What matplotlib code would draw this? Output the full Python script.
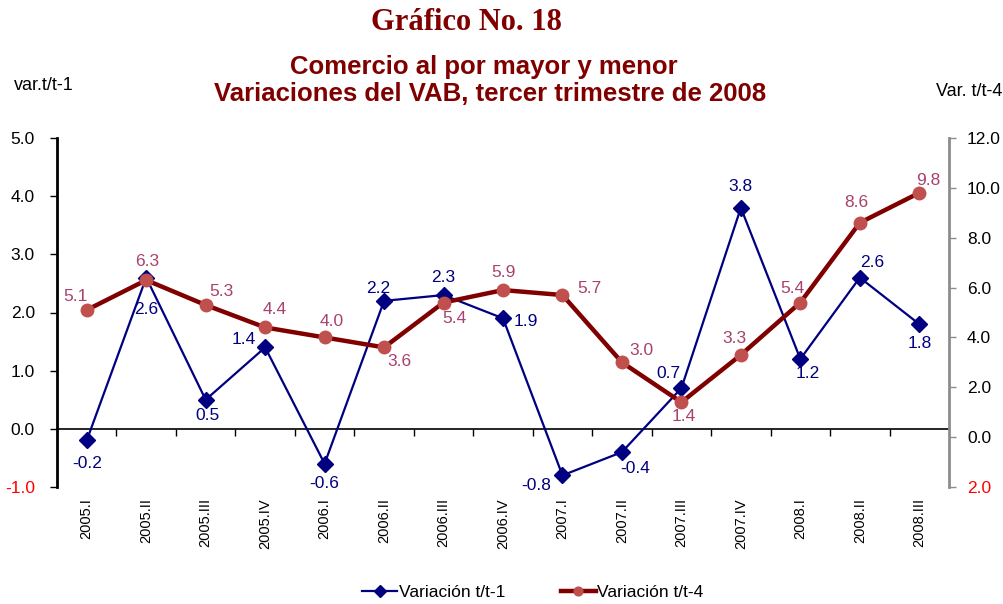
import numpy as np
import matplotlib
matplotlib.use("Agg")
import matplotlib.pyplot as plt
from matplotlib.ticker import FuncFormatter

# data
quarters = ['2005.I', '2005.II', '2005.III', '2005.IV', '2006.I', '2006.II', '2006.III',
            '2006.IV', '2007.I', '2007.II', '2007.III', '2007.IV', '2008.I', '2008.II', '2008.III']
var_t1 = [-0.2, 2.6, 0.5, 1.4, -0.6, 2.2, 2.3, 1.9, -0.8, -0.4, 0.7, 3.8, 1.2, 2.6, 1.8]
var_t4 = [5.1, 6.3, 5.3, 4.4, 4.0, 3.6, 5.4, 5.9, 5.7, 3.0, 1.4, 3.3, 5.4, 8.6, 9.8]

# label offsets (pixels, x right / y up)
off_t1 = [(0, -23), (0, -32), (2, -16), (-21, 8), (0, -20), (-6, 12), (0, 18), (23, -3),
          (-26, -10), (13, -16), (-13, 15), (0, 21), (7, -14), (12, 15), (0, -19)]
off_t4 = [(-11, 14), (1, 19), (16, 14), (10, 18), (7, 16), (15, -14), (11, -16), (0, 18),
          (27, 7), (19, 12), (2, -14), (-6, 16), (-8, 14), (-3, 20), (9, 12)]

navy = '#000080'
maroon = '#800000'
dot = '#C0504D'
pink = '#A8416E'

plt.rcParams['font.family'] = ['Liberation Sans', 'DejaVu Sans']

fig = plt.figure(figsize=(10.04, 6.04), dpi=100)
ax = fig.add_axes([57 / 1004, 1 - 487 / 604, 892 / 1004, 349 / 604])
ax2 = ax.twinx()

x = np.arange(len(quarters)) + 0.5

ax.plot(x, var_t1, color=navy, lw=1.6, marker='D', ms=8.5, mfc=navy, mec=navy, label='Variación t/t-1')
ax2.plot(x, var_t4, color=maroon, lw=3.2, marker='o', ms=9, mfc=dot, mec=dot, label='Variación t/t-4')

for xi, v, o in zip(x, var_t1, off_t1):
    ax.annotate(f'{v:.1f}', (xi, v), xytext=o, textcoords='offset pixels',
                ha='center', va='center', color=navy, fontsize=12.5)
for xi, v, o in zip(x, var_t4, off_t4):
    ax2.annotate(f'{v:.1f}', (xi, v), xytext=o, textcoords='offset pixels',
                 ha='center', va='center', color=pink, fontsize=12.5)

ax.set_xlim(0, len(quarters))
ax.set_ylim(-1, 5)
ax2.set_ylim(-2, 12)
ax.set_yticks(np.arange(-1, 6, 1))
ax2.set_yticks(np.arange(-2, 13, 2))
ax.yaxis.set_major_formatter(FuncFormatter(lambda v, p: f'{v:.1f}'))
ax2.yaxis.set_major_formatter(FuncFormatter(lambda v, p: f'{abs(v):.1f}'))

# category labels at the bottom
ax.set_xticks(x)
ax.set_xticklabels(quarters, rotation=90, fontsize=10.5, va='top')
ax.tick_params(axis='x', length=0, pad=8)

# zero line with category boundary ticks
ax.axhline(0, color='black', lw=1.2, zorder=1)
sec = ax.secondary_xaxis(1 / 6)
sec.set_xticks(np.arange(1, len(quarters)))
sec.tick_params(axis='x', direction='out', length=5, width=1, labelbottom=False, color='black')
sec.spines['bottom'].set_visible(False)

for a in (ax, ax2):
    a.spines['top'].set_visible(False)
    a.spines['bottom'].set_visible(False)
ax.spines['right'].set_visible(False)
ax2.spines['left'].set_visible(False)
ax.spines['left'].set_linewidth(2)
ax.spines['left'].set_color('black')
ax2.spines['right'].set_linewidth(2)
ax2.spines['right'].set_color('#8c8c8c')

ax.tick_params(axis='y', labelsize=12.5, length=5, width=1, pad=11)
ax2.tick_params(axis='y', labelsize=12.5, length=5, width=1, color='#8c8c8c', pad=8)

for t in ax.get_yticklabels():
    if t.get_text().startswith('-'):
        t.set_color('red')
for v, t in zip(ax2.get_yticks(), ax2.get_yticklabels()):
    if v < 0:
        t.set_color('red')

# titles and axis captions
fig.text(466 / 1004, 1 - 22 / 604, 'Gráfico No. 18', ha='center', va='center',
         fontsize=22, fontweight='bold', color=maroon, family=['Liberation Serif', 'DejaVu Serif'])
fig.text(484 / 1004, 1 - 67 / 604, 'Comercio al por mayor y menor',
         ha='center', va='center', fontsize=18.5, fontweight='bold', color=maroon)
fig.text(490 / 1004, 1 - 94 / 604, 'Variaciones del VAB, tercer trimestre de 2008',
         ha='center', va='center', fontsize=18.5, fontweight='bold', color=maroon)
fig.text(14 / 1004, 1 - 86 / 604, 'var.t/t-1', ha='left', va='center', fontsize=13)
fig.text(1002 / 1004, 1 - 92 / 604, 'Var. t/t-4', ha='right', va='center', fontsize=13)

h1, l1 = ax.get_legend_handles_labels()
h2, l2 = ax2.get_legend_handles_labels()
fig.legend(h1 + h2, l1 + l2, loc='center', bbox_to_anchor=(533 / 1004, 1 - 592 / 604), ncol=2,
           frameon=False, fontsize=12.5, handlelength=2.0, columnspacing=3.2, handletextpad=0.1,
           markerscale=0.7)

fig.savefig('out.png', dpi=100)
